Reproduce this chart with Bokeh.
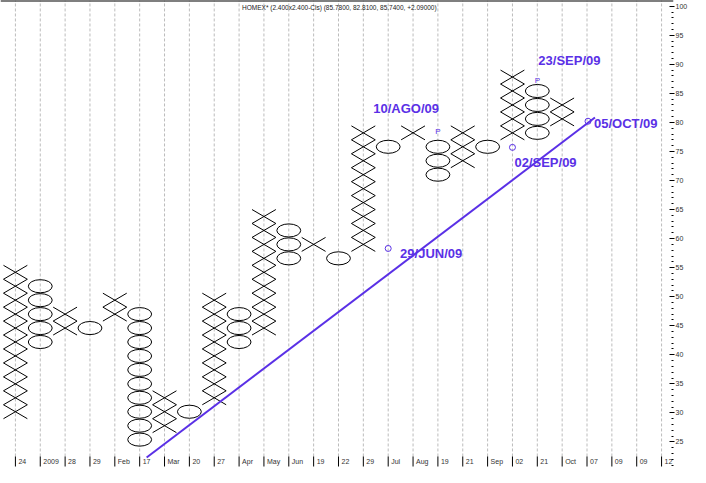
from bokeh.plotting import figure
from bokeh.models import Range1d, LinearAxis, FixedTicker, Label, Span
from bokeh.core.properties import value
from bokeh.embed import file_html
from bokeh.resources import INLINE

# ---------------- data ----------------
BOX = 2.4
col_type = ["X", "O", "X", "O", "X", "O", "X", "O", "X", "O", "X", "O",
            "X", "O", "X", "O", "X", "O", "X", "O", "X", "O", "X"]
col_low = [30.2, 42.2, 44.6, 44.6, 47.0, 25.4, 27.8, 30.2, 32.6, 42.2, 44.6, 56.6,
           59.0, 56.6, 59.0, 75.8, 78.2, 71.0, 73.4, 75.8, 78.2, 78.2, 80.6]
col_high = [54.2, 51.8, 47.0, 44.6, 49.4, 47.0, 32.6, 30.2, 49.4, 47.0, 63.8, 61.4,
            59.0, 56.6, 78.2, 75.8, 78.2, 75.8, 78.2, 75.8, 87.8, 85.4, 83.0]

x_labels = ["24", "2009", "28", "29", "Feb", "17", "Mar", "20", "27", "Apr", "May",
            "Jun", "19", "22", "29", "Jul", "Aug", "19", "21", "Sep", "02", "21",
            "Oct", "07", "09", "09", "12"]

y_major = list(range(25, 101, 5))
y_minor = list(range(21, 101))

trend_x = [5.28, 23.32]
trend_y = [22.32, 80.84]

mark_x = [15, 20, 23.04]
mark_y = [58.3, 75.7, 80.2]

p_x = [17, 21]
p_y = [78.4, 87.2]

note_text = ["10/AGO/09", "23/SEP/09", "05/OCT/09", "02/SEP/09", "29/JUN/09"]
note_x = [14.4, 21.04, 23.28, 20.08, 15.48]
note_y = [82.4, 90.65, 79.8, 73.1, 57.4]

title_text = "HOMEX* (2.400x2.400-Cls) (85.7800, 82.8100, 85.7400, +2.09000)"

# ---------------- style constants ----------------
PURPLE = "#5a30e6"
Y_TOP = 100.98
Y_BOTTOM = 20.60
GRID_BOTTOM = 22.50
TICK_BOTTOM = 20.77
LABEL_Y = 21.55

# ---------------- build geometry from data ----------------
x0, y0, x1, y1 = [], [], [], []
ox, oy = [], []
hw = 0.48
hh = BOX / 2
for i, (t, lo, hi) in enumerate(zip(col_type, col_low, col_high)):
    n = int(round((hi - lo) / BOX)) + 1
    for j in range(n):
        v = lo + j * BOX
        if t == "X":
            x0 += [i - hw, i - hw]
            y0 += [v - hh, v + hh]
            x1 += [i + hw, i + hw]
            y1 += [v + hh, v - hh]
        else:
            ox.append(i)
            oy.append(v)

cols = list(range(len(x_labels)))

p = figure(width=690, height=467, output_backend="svg", toolbar_location=None,
           x_range=Range1d(-0.6, 26.48), y_range=Range1d(Y_BOTTOM, Y_TOP),
           x_axis_location=None, y_axis_location=None,
           min_border_left=0, min_border_top=0, min_border_right=13, min_border_bottom=0)
p.outline_line_color = None
p.background_fill_color = "white"
p.border_fill_color = "white"
p.xgrid.visible = False
p.ygrid.visible = False

# vertical dashed grid lines and bottom tick marks
p.segment(x0=cols, y0=[GRID_BOTTOM] * len(cols), x1=cols, y1=[Y_TOP] * len(cols),
          line_color="#bcbcbc", line_dash="3 2", line_width=1)
p.segment(x0=cols, y0=[TICK_BOTTOM] * len(cols), x1=cols, y1=[GRID_BOTTOM] * len(cols),
          line_color="#000000", line_width=1)
p.text(x=cols, y=[LABEL_Y] * len(cols), text=x_labels, x_offset=3,
       text_color="#333333", text_font_size="7px", text_font=value("Liberation Sans"),
       text_align="left", text_baseline="middle")

yaxis = LinearAxis(ticker=FixedTicker(ticks=y_major, minor_ticks=y_minor),
                   axis_line_color=None,
                   major_tick_in=4, major_tick_out=1, major_tick_line_color="black",
                   minor_tick_in=2, minor_tick_out=0, minor_tick_line_color="black",
                   major_label_standoff=1,
                   major_label_text_font_size="7px", major_label_text_color="#333333",
                   major_label_text_font="Liberation Sans")
p.add_layout(yaxis, "right")

p.add_layout(Span(location=Y_TOP, dimension="width", line_color="black", line_width=2))

# X boxes and O boxes
p.segment(x0=x0, y0=y0, x1=x1, y1=y1, line_color="black", line_width=1)
p.ellipse(x=ox, y=oy, width=0.96, height=2.25, fill_color=None, line_color="black",
          line_width=1)

# trend line and markers
p.line(trend_x, trend_y, line_color=PURPLE, line_width=2)
p.scatter(mark_x, mark_y, marker="circle", size=6, fill_color=None, line_color=PURPLE,
          line_width=1)
p.text(x=p_x, y=p_y, text=["P"] * len(p_x), text_color=PURPLE, text_font_size="8px",
       text_font=value("Liberation Sans"), text_align="center", text_baseline="middle")

p.text(x=note_x, y=note_y, text=note_text, text_color=PURPLE,
       text_font_size="13px", text_font_style="bold",
       text_font=value("Liberation Sans"), text_align="left", text_baseline="middle")

p.add_layout(Label(x=9.12, y=99.78, text=title_text, text_font_size="6.5px",
                   text_font="Liberation Sans", text_color="#222222",
                   text_align="left", text_baseline="middle"))

open("out.html", "w").write(file_html(p, INLINE))
